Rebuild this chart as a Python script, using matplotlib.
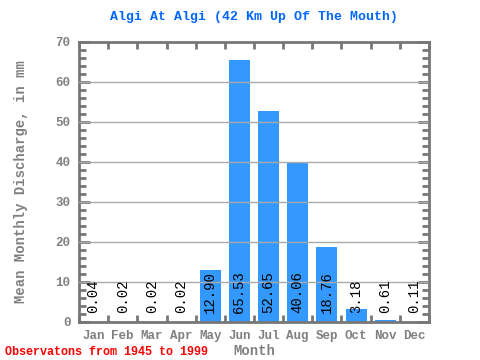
import matplotlib.pyplot as plt
import numpy as np

months = ['Jan', 'Feb', 'Mar', 'Apr', 'May', 'Jun', 'Jul', 'Aug', 'Sep', 'Oct', 'Nov', 'Dec']
discharge = [0.04, 0.02, 0.02, 0.02, 12.90, 65.53, 52.65, 40.06, 18.76, 3.18, 0.61, 0.11]
labels = ['0.04', '0.02', '0.02', '0.02', '12.90', '65.53', '52.65', '40.06', '18.76', '3.18', '0.61', '0.11']

mono = 'Liberation Mono'
gray = '#808080'
axc = '#777777'

fig = plt.figure(figsize=(4.8, 3.6), dpi=100)
ax = fig.add_axes([79/480, 1-322/360, 350/480, 280/360])

x = np.arange(len(months))
ax.bar(x, discharge, width=0.72, color='#3399ff', zorder=2)

for yv in range(10, 70, 10):
    ax.axhline(yv, color='#aaaaaa', lw=1, zorder=3)

for i, t in enumerate(labels):
    ax.text(i, 2.2, t, rotation=90, ha='center', va='bottom',
            fontsize=10, family=mono, color='black', zorder=4)

ax.set_xlim(-0.5, 11.5)
ax.set_ylim(0, 70)

ax.set_xticks(x)
ax.set_xticklabels(months, family=mono, fontsize=9, fontweight='bold', color=gray)
ax.set_xticks(np.arange(-0.5, 12, 1), minor=True)
ax.tick_params(axis='x', which='major', length=0, pad=6)
ax.tick_params(axis='x', which='minor', direction='in', length=5, width=2,
               color=axc, top=True, bottom=True)

ax.set_yticks(range(0, 80, 10))
ax.set_yticklabels([str(v) for v in range(0, 80, 10)], family=mono, fontsize=9,
                   fontweight='bold', color=gray)
ax.set_yticks(np.arange(0, 71, 2), minor=True)
ax.tick_params(axis='y', which='major', direction='in', length=8, width=2,
               color=axc, left=True, right=True, pad=6)
ax.tick_params(axis='y', which='minor', direction='in', length=5, width=2,
               color=axc, left=True, right=True)

for s in ax.spines.values():
    s.set_color(axc)
    s.set_linewidth(2)

ax.set_xlabel('Month', family=mono, fontsize=10, fontweight='bold', color=gray, labelpad=1)
ax.set_ylabel('Mean Monthly Discharge, in mm', family=mono, fontsize=10,
              fontweight='bold', color=gray, labelpad=20)
ax.set_title('Algi At Algi (42 Km Up Of The Mouth)', family=mono, fontsize=9.5,
             fontweight='bold', color='#0066ff', pad=16)

fig.text(5/480, 1-352/360, 'Observatons from 1945 to 1999', family=mono, fontsize=8.5,
         fontweight='bold', color='red', va='center')

fig.savefig('out.png', dpi=100)
